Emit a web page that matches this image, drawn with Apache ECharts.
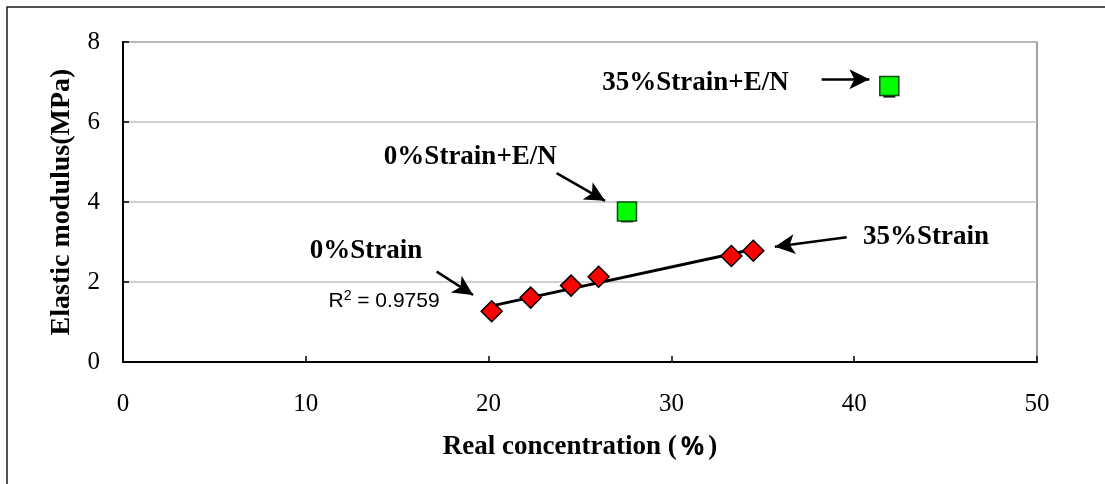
<!DOCTYPE html>
<html>
<head>
<meta charset="utf-8">
<script src="https://cdn.jsdelivr.net/npm/echarts@6/dist/echarts.min.js"></script>
<style>
  html, body { margin: 0; padding: 0; background: #fff; }
  #chart { width: 1105px; height: 484px; }
</style>
</head>
<body>
<div id="chart"></div>
<script>
// Strained samples: real concentration (%) vs elastic modulus (MPa)
const strainX = [20.17, 22.30, 24.51, 26.02, 33.28, 34.48];
const strainY = [1.27, 1.61, 1.91, 2.13, 2.65, 2.78];

// Samples with E/N treatment, with their lower error bar ends
const enX = [27.57, 41.92];
const enY = [3.76, 6.90];
const enLow = [3.51, 6.63];

// Axis ticks
const xTicks = [0, 10, 20, 30, 40, 50];
const yTicks = [0, 2, 4, 6, 8];

// Callout texts and their anchor positions (data units)
const noteText = ['0%Strain', '0%Strain+E/N', '35%Strain+E/N', '35%Strain'];
const noteX = [13.29, 19.00, 31.32, 43.93];
const noteY = [2.775, 5.125, 6.975, 3.125];

// Callout arrows: tail -> head (data units)
const arrowFromX = [17.16, 23.72, 38.22, 39.59];
const arrowFromY = [2.26, 4.72, 7.07, 3.12];
const arrowToX = [19.15, 26.37, 40.83, 35.66];
const arrowToY = [1.675, 4.03, 7.07, 2.88];

// Least squares trend line through the strained samples
function linearFit(xs, ys) {
  const n = xs.length;
  const mx = xs.reduce((a, b) => a + b, 0) / n;
  const my = ys.reduce((a, b) => a + b, 0) / n;
  let sxy = 0, sxx = 0;
  for (let i = 0; i < n; i++) {
    sxy += (xs[i] - mx) * (ys[i] - my);
    sxx += (xs[i] - mx) ** 2;
  }
  const slope = sxy / sxx;
  return { slope, intercept: my - slope * mx };
}
const fit = linearFit(strainX, strainY);
const xMin = Math.min(...strainX), xMax = Math.max(...strainX);
const trend = [
  [xMin, fit.intercept + fit.slope * xMin],
  [xMax, fit.intercept + fit.slope * xMax]
];
const r2Label = { x: 14.28, y: 1.53, value: '0.9759' };

const serif = 'Liberation Serif, Times New Roman, serif';
const sans = 'Liberation Sans, Arial, sans-serif';

const chart = echarts.init(document.getElementById('chart'), null, { renderer: 'canvas' });

chart.setOption({
  animation: false,
  backgroundColor: '#fff',
  graphic: [{
    type: 'rect',
    shape: { x: 7, y: 7, width: 1200, height: 600 },
    style: { fill: 'none', stroke: '#1a1a1a', lineWidth: 1.5 },
    silent: true, z: -10
  }],
  grid: {
    left: 123, right: 68, top: 42, bottom: 122,
    show: true, borderColor: '#808080', borderWidth: 1.5, backgroundColor: 'transparent'
  },
  xAxis: {
    type: 'value', min: xTicks[0], max: xTicks[xTicks.length - 1], interval: 10,
    name: 'Real concentration ({p|%})',
    nameLocation: 'middle', nameGap: 72,
    nameTextStyle: {
      fontFamily: serif, fontWeight: 'bold', fontSize: 27, color: '#000',
      rich: {
        p: { fontFamily: 'Noto Sans, DejaVu Sans, sans-serif', fontWeight: 'bold', fontSize: 26, color: '#000', padding: [0, 4, 0, 4] }
      }
    },
    axisLine: { onZero: false, lineStyle: { color: '#000', width: 2 } },
    axisTick: { show: true, inside: true, length: 6, lineStyle: { color: '#000', width: 1.5 } },
    axisLabel: { fontFamily: serif, fontSize: 25, color: '#000', margin: 30 },
    splitLine: { show: false }
  },
  yAxis: {
    type: 'value', min: yTicks[0], max: yTicks[yTicks.length - 1], interval: 2,
    name: 'Elastic modulus(MPa)',
    nameLocation: 'middle', nameGap: 47, nameRotate: 90,
    nameTextStyle: { fontFamily: serif, fontWeight: 'bold', fontSize: 28, color: '#000' },
    axisLine: { show: true, lineStyle: { color: '#000', width: 2 } },
    axisTick: { show: true, inside: true, length: 6, lineStyle: { color: '#000', width: 1.5 } },
    axisLabel: { fontFamily: serif, fontSize: 25, color: '#000', margin: 23 },
    splitLine: { show: true, lineStyle: { color: '#c0c0c0', width: 1.5 } }
  },
  series: [
    {
      // trend line
      type: 'line',
      data: trend,
      symbol: 'none',
      lineStyle: { color: '#000', width: 3 },
      z: 3,
      silent: true
    },
    {
      type: 'scatter',
      data: strainX.map((x, i) => [x, strainY[i]]),
      symbol: 'diamond',
      symbolSize: 21,
      itemStyle: { color: '#ff0000', borderColor: '#000', borderWidth: 1.5, opacity: 1 },
      z: 4
    },
    {
      // lower error bars of the E/N samples
      type: 'custom',
      data: enX.map((x, i) => [x, enY[i], enLow[i]]),
      renderItem: function (params, api) {
        const top = api.coord([api.value(0), api.value(1)]);
        const bot = api.coord([api.value(0), api.value(2)]);
        return {
          type: 'group',
          children: [
            { type: 'line', shape: { x1: top[0], y1: top[1], x2: bot[0], y2: bot[1] },
              style: { stroke: '#000', lineWidth: 1.5 } },
            { type: 'line', shape: { x1: bot[0] - 6, y1: bot[1], x2: bot[0] + 6, y2: bot[1] },
              style: { stroke: '#000', lineWidth: 1.5 } }
          ]
        };
      },
      z: 4,
      silent: true
    },
    {
      type: 'scatter',
      data: enX.map((x, i) => [x, enY[i]]),
      symbol: 'rect',
      symbolSize: 19,
      itemStyle: { color: '#00ff00', borderColor: '#0b4d0b', borderWidth: 1.5, opacity: 1 },
      z: 5
    },
    {
      // callout texts and arrows
      type: 'scatter',
      data: noteX.map((x, i) => ({ value: [x, noteY[i]], name: noteText[i] })),
      symbolSize: 0,
      silent: true,
      itemStyle: { opacity: 1 },
      label: {
        show: true, position: 'inside', formatter: '{b}',
        fontFamily: serif, fontWeight: 'bold', fontSize: 27, color: '#000'
      },
      markLine: {
        silent: true,
        symbol: ['none', 'arrow'],
        symbolSize: [15, 20],
        label: { show: false },
        lineStyle: { color: '#000', width: 2.5, type: 'solid', opacity: 1 },
        data: arrowFromX.map((x, i) => [
          { coord: [x, arrowFromY[i]] },
          { coord: [arrowToX[i], arrowToY[i]] }
        ])
      },
      z: 6
    },
    {
      // R² of the trend line
      type: 'scatter',
      data: [{ value: [r2Label.x, r2Label.y] }],
      symbolSize: 0,
      silent: true,
      itemStyle: { opacity: 1 },
      label: {
        show: true, position: 'inside',
        formatter: 'R{sup|2} = ' + r2Label.value,
        fontFamily: sans, fontSize: 21, color: '#000',
        rich: {
          sup: { fontFamily: sans, fontSize: 14, color: '#000', verticalAlign: 'top', padding: [0, 0, 10, 0] }
        }
      },
      z: 6
    }
  ]
});
</script>
</body>
</html>
